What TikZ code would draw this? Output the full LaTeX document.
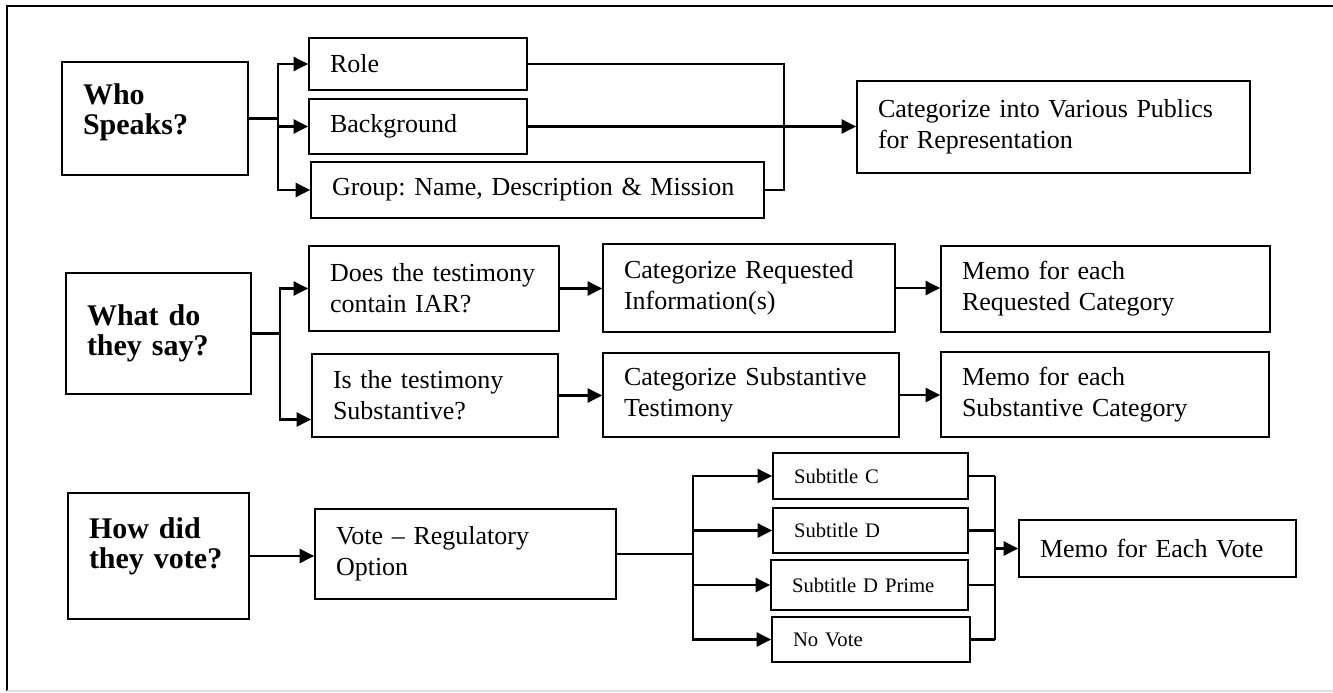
\documentclass[tikz,border=0pt]{standalone}
\usepackage{fontspec}
\setmainfont{Liberation Serif}
\frenchspacing
\usetikzlibrary{arrows.meta}
\usetikzlibrary{positioning}

\tikzset{
    box/.style 2 args={draw, rectangle, line width=1.2pt, minimum width=#1*0.75pt, minimum height=#2*0.75pt,
        inner xsep=15.75pt, inner ysep=0pt, text width=(#1-42)*0.75pt, align=left,
        font=\fontsize{19.5}{23.25}\selectfont},
    head/.style={font=\fontsize{22.5}{22.5}\selectfont\bfseries},
    small/.style={font=\fontsize{15.5}{18}\selectfont},
    link/.style={line width=2pt},
    >={Triangle[length=11pt,width=10.5pt]}
}

\begin{document}
\begin{tikzpicture}[x=0.75pt, y=-0.75pt]
    \useasboundingbox (0,0) rectangle (1333,692);
    \draw[line width=1.5pt] (7,691) -- (7,6) -- (1333,6);
    \draw[black!12, line width=1pt] (7,691) -- (1333,691);

    % who speaks
    \draw (155, 118.5) node[box={186}{113}, head, text depth=37pt] (who) {Who\\Speaks?};
    \draw (418, 64) node[box={218}{52}] (role) {Role};
    \draw (418, 126.5) node[box={218}{55}] (bg) {Background};
    \draw (537.5, 190) node[box={453}{56}] (grp) {Group: Name, Description \& Mission};
    \draw (1053.5, 127) node[box={393}{92}] (cat) {Categorize into Various Publics\\for Representation};
    \coordinate (f1) at (278, 118.5);
    \coordinate (j1) at (784, 64);

    \draw[link] (who.east) -- (f1);
    \foreach \b in {role,bg,grp}{
        \draw[link,->] (f1) |- (\b.west);
    }
    \draw[link] (role.east) -| (j1 |- grp.east) -- (grp.east);
    \draw[link,->] (bg.east) -- (bg.east -| cat.west);

    % what do they say
    \draw (158.5, 333.5) node[box={185}{121}, head] (what) {What do\\they say?};
    \draw (434, 288.5) node[box={250}{85}] (iar) {Does the testimony\\contain IAR?};
    \draw (435, 395.5) node[box={246}{83}] (subst) {Is the testimony\\Substantive?};
    \draw (749, 288) node[box={292}{88}] (catreq) {Categorize Requested\\Information(s)};
    \draw (751, 395) node[box={296}{84}] (catsub) {Categorize Substantive\\Testimony};
    \draw (1105.5, 289) node[box={329}{86}] (memoreq) {Memo for each\\Requested Category};
    \draw (1105, 394.5) node[box={328}{85}] (memosub) {Memo for each\\Substantive Category};
    \coordinate (f2) at (280, 333.5);

    \draw[link] (what.east) -- (f2);
    \draw[link,->] (f2) |- (iar.west);
    \draw[link,->] (f2) |- ([yshift=-18pt]subst.west);
    \draw[link,->] (iar.east) -- (iar.east -| catreq.west);
    \draw[link,->] (catreq.east) -- (catreq.east -| memoreq.west);
    \draw[link,->] (subst.east) -- (subst.east -| catsub.west);
    \draw[link,->] (catsub.east) -- (catsub.east -| memosub.west);

    % how did they vote
    \draw (158.5, 556) node[box={181}{126}, head, text depth=42pt] (how) {How did\\they vote?};
    \draw (465.5, 554) node[box={301}{90}] (vote) {Vote -- Regulatory\\Option};
    \draw (870.5, 476) node[box={195}{46}, small] (subc) {Subtitle C};
    \draw (870.5, 530.5) node[box={195}{45}, small] (subd) {Subtitle D};
    \draw (869.5, 585) node[box={197}{50}, small] (subdp) {Subtitle D Prime};
    \draw (871, 639.5) node[box={198}{45}, small] (novote) {No Vote};
    \draw (1157.5, 548.5) node[box={277}{57}] (memo) {Memo for Each Vote};
    \coordinate (f3) at (693, 554);
    \coordinate (j3) at (995, 548.5);

    \draw[link,->] (how.east) -- (how.east -| vote.west);
    \draw[link] (vote.east) -- (f3);
    \foreach \s in {subc,subd,subdp,novote}{
        \draw[link,->] (f3) |- (\s.west);
        \draw[link] (\s.east) -- (\s.east -| j3);
    }
    \draw[link] (subc.east -| j3) -- (novote.east -| j3);
    \draw[link,->] (j3) -- (memo.west);
\end{tikzpicture}
\end{document}
